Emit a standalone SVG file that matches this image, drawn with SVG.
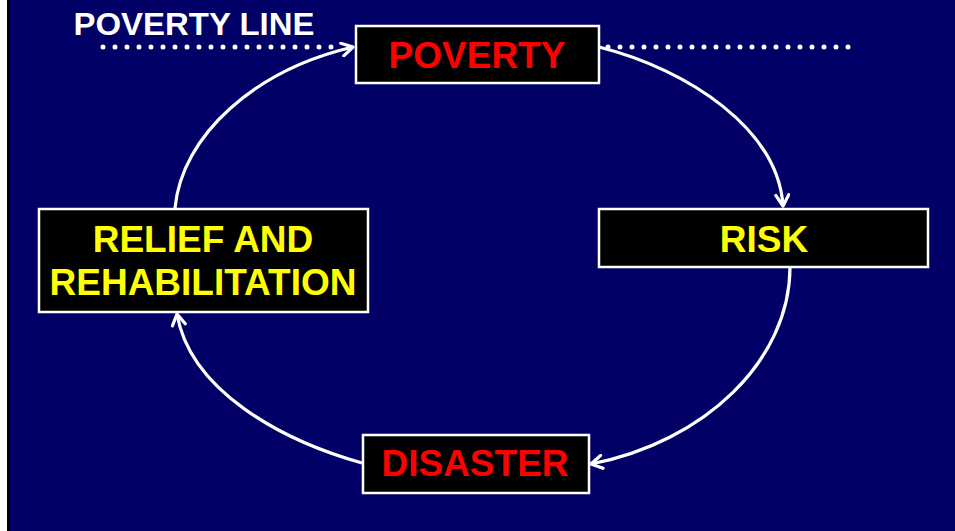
<svg xmlns="http://www.w3.org/2000/svg" width="955" height="531" viewBox="0 0 955 531">
<defs>
<style>
.box{fill:#000;stroke:#fff;stroke-width:2.5}
.t{font-family:"Liberation Sans",Arial,sans-serif;font-weight:bold;font-size:37px;text-anchor:middle}
.red{fill:#ff0000}
.yel{fill:#ffff00}
.arc{fill:none;stroke:#fff;stroke-width:3.2}
.dots{stroke:#fff;stroke-width:5;stroke-linecap:round;stroke-dasharray:0 12}
</style>
<marker id="ah" markerWidth="16" markerHeight="16" viewBox="-12 -8 14 16" refX="0" refY="0" orient="auto" markerUnits="userSpaceOnUse">
<path d="M-11,-6.5 L0,0 L-11,6.5" fill="none" stroke="#fff" stroke-width="3.2" stroke-linecap="round" stroke-linejoin="round"/>
</marker>
</defs>
<rect x="0" y="0" width="955" height="531" fill="#fff"/>
<rect x="7" y="0" width="948" height="531" fill="#000"/>
<rect x="10" y="0" width="945" height="531" fill="#000066"/>
<text x="194" y="35" font-family="Liberation Sans, Arial, sans-serif" font-weight="bold" font-size="31" fill="#fff" text-anchor="middle" textLength="241" lengthAdjust="spacingAndGlyphs">POVERTY LINE</text>
<g id="poverty-line">
<line class="dots" x1="103" y1="47" x2="340" y2="47"/>
<line class="dots" x1="608" y1="47" x2="849" y2="47"/>
</g>
<g id="connectors">
<path class="arc" d="M175,208 C182,135 255,70 353,47" marker-end="url(#ah)"/>
<path class="arc" d="M599,47 C690,70 778,130 783,206" marker-end="url(#ah)"/>
<path class="arc" d="M790,267 C790,360 705,442 591,464" marker-end="url(#ah)"/>
<path class="arc" d="M362,463 C280,440 190,390 177,314" marker-end="url(#ah)"/>
</g>
<g id="poverty">
<rect class="box" x="356" y="26" width="243" height="57"/>
<text class="t red" x="477" y="68">POVERTY</text>
</g>
<g id="risk">
<rect class="box" x="599" y="209" width="329" height="58"/>
<text class="t yel" x="764" y="252">RISK</text>
</g>
<g id="disaster">
<rect class="box" x="363" y="435" width="226" height="58"/>
<text class="t red" x="475" y="476">DISASTER</text>
</g>
<g id="relief">
<rect class="box" x="39" y="209" width="329" height="103"/>
<text class="t yel" x="203" y="252">RELIEF AND</text>
<text class="t yel" x="203" y="295">REHABILITATION</text>
</g>
</svg>
